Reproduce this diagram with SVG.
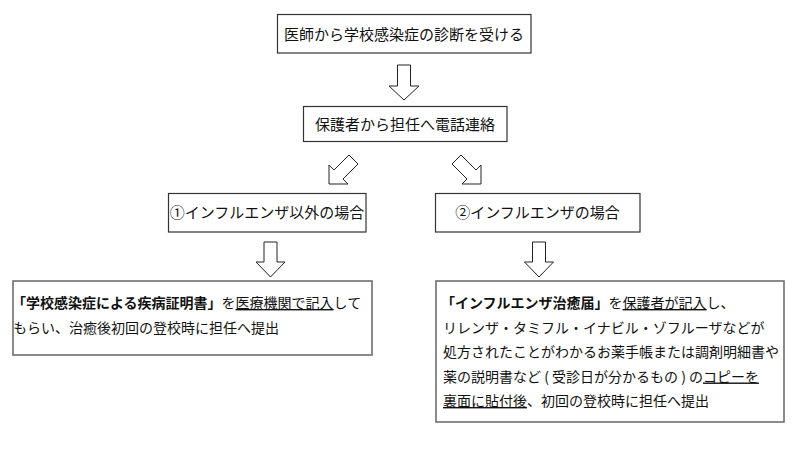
<svg xmlns="http://www.w3.org/2000/svg" width="800" height="459" viewBox="0 0 800 459">
<style>
  .box{fill:#ffffff;stroke:#333333;stroke-width:1.2}
  .box2{fill:#ffffff;stroke:#6e6e6e;stroke-width:1.6}
  .arr{fill:#ffffff;stroke:#222222;stroke-width:1}
  text{font-family:"Noto Sans CJK JP","Noto Sans CJK SC",sans-serif;fill:#111111}
  .t15{font-size:15px}
  .t14{font-size:14px}
  .b{font-weight:bold}
  .u{text-decoration:underline}
</style>
<rect width="800" height="459" fill="#ffffff"/>
<g id="connectors">
  <polygon class="arr" points="397.5,65 410.5,65 410.5,86 419,86 404,100 389,86 397.5,86"/>
  <polygon class="arr" points="329,184 329,165 334,170 349,155 358,164 343,179 348,184"/>
  <polygon class="arr" points="481,184 481,165 476,170 461,155 452,164 467,179 462,184"/>
  <polygon class="arr" points="264,242 277,242 277,262 285,262 270.5,277 256,262 264,262"/>
  <polygon class="arr" points="532.5,242 545.5,242 545.5,262 553.5,262 539,277 524.5,262 532.5,262"/>
</g>
<g id="node-diagnosis">
  <rect class="box" x="277.5" y="14.5" width="253.5" height="38.5"/>
  <text class="t15" x="404" y="40" text-anchor="middle">医師から学校感染症の診断を受ける</text>
</g>
<g id="node-phone">
  <rect class="box" x="303.5" y="106.5" width="203.5" height="35"/>
  <text class="t15" x="405" y="129.5" text-anchor="middle">保護者から担任へ電話連絡</text>
</g>
<g id="node-other">
  <rect class="box" x="168.5" y="193.5" width="197.5" height="38.5"/>
  <text class="t15" x="267" y="218" text-anchor="middle">①インフルエンザ以外の場合</text>
</g>
<g id="node-flu">
  <rect class="box" x="435.5" y="193.5" width="204.5" height="38.5"/>
  <text class="t15" x="537.5" y="218" text-anchor="middle">②インフルエンザの場合</text>
</g>
<g id="node-certificate">
  <rect class="box2" x="13" y="281" width="359" height="74"/>
  <text class="t14" x="12" y="308"><tspan class="b">「学校感染症による疾病証明書」</tspan>を<tspan class="u">医療機関で記入</tspan>して</text>
  <text class="t14" x="13" y="332.5">もらい、治癒後初回の登校時に担任へ提出</text>
</g>
<g id="node-report">
  <rect class="box2" x="436" y="281" width="348" height="141"/>
  <text class="t14" x="441" y="308"><tspan class="b">「インフルエンザ治癒届」</tspan>を<tspan class="u">保護者が記入</tspan>し、</text>
  <text class="t14" x="443" y="332.5">リレンザ・タミフル・イナビル・ゾフルーザなどが</text>
  <text class="t14" x="443" y="357">処方されたことがわかるお薬手帳または調剤明細書や</text>
  <text class="t14" x="443" y="381.5">薬の説明書など ( 受診日が分かるもの ) の<tspan class="u">コピーを</tspan></text>
  <text class="t14" x="443" y="406"><tspan class="u">裏面に貼付後</tspan>、初回の登校時に担任へ提出</text>
</g>
</svg>
